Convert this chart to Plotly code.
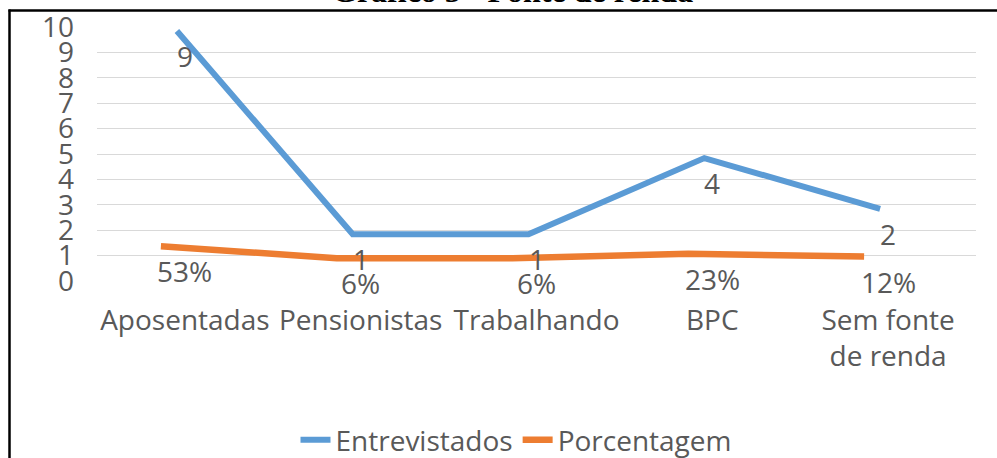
import plotly.graph_objects as go

categories = ["Aposentadas", "Pensionistas", "Trabalhando", "BPC", "Sem fonte<br>de renda"]
entrevistados = [9, 1, 1, 4, 2]
porcentagem = [0.53, 0.06, 0.06, 0.23, 0.12]
pct_labels = ["53%", "6%", "6%", "23%", "12%"]
y_ticks = list(range(0, 11))

W, H = 997, 458
ML, MR, MT, MB = 97, 21, 27, 177
PW, PH = W - ML - MR, H - MT - MB

def px_to_paper_x(px):
    return (px - ML) / PW

def px_to_paper_y(py):
    return (H - MB - py) / PH

idx = list(range(len(categories)))
TXT = "#595959"
FONT = "Open Sans"
FS = 28

fig = go.Figure()
# invisible trace anchoring the visible category / value axes
fig.add_trace(go.Scatter(x=idx, y=[None] * len(idx), xaxis="x", yaxis="y", mode="lines",
                         showlegend=False, hoverinfo="skip"))
fig.add_trace(go.Scatter(x=idx, y=entrevistados, xaxis="x2", yaxis="y2", mode="lines",
                         line=dict(color="#5B9BD5", width=6), name="Entrevistados"))
fig.add_trace(go.Scatter(x=idx, y=porcentagem, xaxis="x3", yaxis="y2", mode="lines",
                         line=dict(color="#ED7D31", width=6.5), name="Porcentagem"))

annotations = []
for i, v in enumerate(entrevistados):
    annotations.append(dict(x=i, y=v, xref="x", yref="y2", text=str(v), showarrow=False,
                            yshift=-25, font=dict(family=FONT, size=FS, color=TXT)))
for i, v in enumerate(porcentagem):
    annotations.append(dict(x=i, y=v, xref="x", yref="y2", text=pct_labels[i], showarrow=False,
                            yshift=-25, font=dict(family=FONT, size=FS, color=TXT)))
annotations.append(dict(x=px_to_paper_x(512), y=px_to_paper_y(11), xref="paper", yref="paper",
                        text="<b>Gráfico 5 - Fonte de renda</b>", showarrow=False,
                        xanchor="center", yanchor="bottom",
                        font=dict(family="Liberation Serif", size=32, color="black")))

shapes = [
    dict(type="line", xref="paper", yref="paper", x0=px_to_paper_x(8.5), x1=px_to_paper_x(1000),
         y0=px_to_paper_y(10.5), y1=px_to_paper_y(10.5), line=dict(color="black", width=2.5)),
    dict(type="line", xref="paper", yref="paper", x0=px_to_paper_x(9.5), x1=px_to_paper_x(9.5),
         y0=px_to_paper_y(9.5), y1=px_to_paper_y(470), line=dict(color="black", width=2.5)),
]

fig.update_layout(
    width=W, height=H,
    margin=dict(l=ML, r=MR, t=MT, b=MB, autoexpand=False),
    paper_bgcolor="white", plot_bgcolor="white",
    showlegend=True,
    legend=dict(orientation="h", x=px_to_paper_x(516), xanchor="center",
                y=px_to_paper_y(440), yanchor="middle",
                font=dict(family=FONT, size=FS, color=TXT), itemwidth=30),
    xaxis=dict(range=[-0.5, 4.5], tickmode="array", tickvals=idx, ticktext=categories,
               showgrid=False, zeroline=False, showline=False, ticks="",
               ticklabelstandoff=20,
               tickfont=dict(family=FONT, size=FS, color=TXT)),
    yaxis=dict(range=[0, 10], tickmode="array", tickvals=y_ticks, ticktext=[str(t) for t in y_ticks],
               showgrid=True, gridcolor="#D9D9D9", gridwidth=1.3, zeroline=False, showline=False,
               ticks="", ticklabelstandoff=22, tickfont=dict(family=FONT, size=FS, color=TXT)),
    xaxis2=dict(overlaying="x", range=[-0.5 + 8 / 175.8, 4.5 + 8 / 175.8], visible=False),
    xaxis3=dict(overlaying="x", range=[-0.5 + 24 / 175.8, 4.5 + 24 / 175.8], visible=False),
    yaxis2=dict(overlaying="y", range=[-0.84, 9.16], visible=False),
    annotations=annotations,
    shapes=shapes,
)

fig.write_html(
    "out.html",
    config={"displayModeBar": False},
    post_script="document.body.style.margin='0';document.body.style.overflow='hidden';",
)
